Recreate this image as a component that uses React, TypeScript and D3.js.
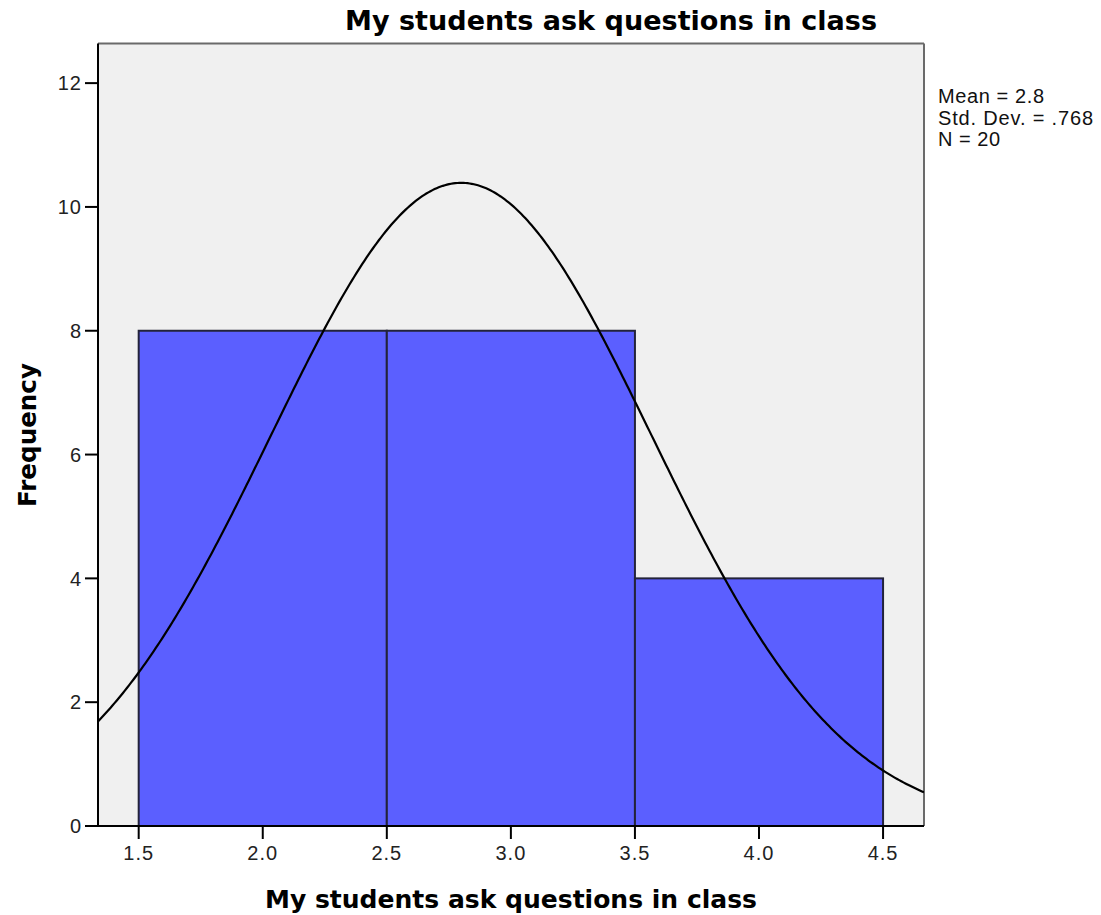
import React from "react";
import * as d3 from "d3";

const binStarts = [1.5, 2.5, 3.5];
const binEnds = [2.5, 3.5, 4.5];
const counts = [8, 8, 4];
const xTicks = [1.5, 2.0, 2.5, 3.0, 3.5, 4.0, 4.5];
const yTicks = [0, 2, 4, 6, 8, 10, 12];
const statLines = ["Mean = 2.8", "Std. Dev. = .768", "N = 20"];
const statWidths = [106, 155, 62];
const mean = 2.8;
const sd = 0.768;
const n = 20;
const binWidth = 1;
const title = "My students ask questions in class";
const xTitle = "My students ask questions in class";
const yTitle = "Frequency";

const W = 1101;
const H = 915;
const left = 98;
const right = 924;
const top = 43.5;
const bottom = 826;

export default function App() {
  const x = d3.scaleLinear().domain([1.336, 4.665]).range([left, right]);
  const y = d3.scaleLinear().domain([0, 12.64]).range([bottom, top]);

  const pdf = (v: number) =>
    (n * binWidth) / (sd * Math.sqrt(2 * Math.PI)) *
    Math.exp(-0.5 * ((v - mean) / sd) ** 2);
  const xs = d3.range(0, 401).map((i) => 1.336 + (i / 400) * (4.665 - 1.336));
  const line = d3
    .line<number>()
    .x((v) => x(v))
    .y((v) => y(pdf(v)))
    .curve(d3.curveLinear);

  const font = "'DejaVu Sans', Verdana, sans-serif";
  const arial = "'Liberation Sans', Arial, sans-serif";

  return (
    <svg
      width={W}
      height={H}
      style={{ position: "absolute", left: 0, top: 0, background: "#fff" }}
      fontFamily={font}
    >
      <defs>
        <clipPath id="plotClip">
          <rect x={left} y={top} width={right - left} height={bottom - top} />
        </clipPath>
      </defs>
      <rect x={left} y={top} width={right - left} height={bottom - top} fill="#f0f0f0" />
      <line x1={left} x2={right} y1={top} y2={top} stroke="#6a6a6a" strokeWidth={2} />
      <line x1={right} x2={right} y1={top} y2={bottom} stroke="#6a6a6a" strokeWidth={2} />

      {counts.map((c, i) => (
        <rect
          key={i}
          x={x(binStarts[i])}
          y={y(c)}
          width={x(binEnds[i]) - x(binStarts[i])}
          height={y(0) - y(c)}
          fill="#5b5fff"
          stroke="#23233a"
          strokeWidth={2}
        />
      ))}

      <path
        d={line(xs) || ""}
        fill="none"
        stroke="#000"
        strokeWidth={2.2}
        clipPath="url(#plotClip)"
      />

      <line x1={left} x2={left} y1={top} y2={bottom} stroke="#000" strokeWidth={2} />
      <line x1={left} x2={right} y1={bottom} y2={bottom} stroke="#000" strokeWidth={2} />

      {yTicks.map((t) => (
        <g key={t}>
          <line x1={left - 13} x2={left} y1={y(t)} y2={y(t)} stroke="#000" strokeWidth={2} />
          <text
            x={left - 16}
            y={y(t)}
            dy="0.36em"
            textAnchor="end"
            fontSize={20}
            fontFamily={arial}
            letterSpacing={1}
            fill="#222"
          >
            {t}
          </text>
        </g>
      ))}
      {xTicks.map((t) => (
        <g key={t}>
          <line x1={x(t)} x2={x(t)} y1={bottom} y2={bottom + 13} stroke="#000" strokeWidth={2} />
          <text
            x={x(t)}
            y={860}
            textAnchor="middle"
            fontSize={20}
            fontFamily={arial}
            letterSpacing={1}
            fill="#222"
          >
            {t.toFixed(1)}
          </text>
        </g>
      ))}

      <text
        x={611}
        y={30}
        textAnchor="middle"
        fontSize={27}
        fontWeight="bold"
        fill="#000"
        textLength={532}
        lengthAdjust="spacingAndGlyphs"
      >
        {title}
      </text>
      <text
        x={(left + right) / 2}
        y={908}
        textAnchor="middle"
        fontSize={25}
        fontWeight="bold"
        fill="#000"
        textLength={492}
        lengthAdjust="spacingAndGlyphs"
      >
        {xTitle}
      </text>
      <text
        transform={`translate(36, 435) rotate(-90)`}
        textAnchor="middle"
        fontSize={24.5}
        fontWeight="bold"
        fill="#000"
        textLength={144}
        lengthAdjust="spacingAndGlyphs"
      >
        {yTitle}
      </text>

      {statLines.map((s, i) => (
        <text
          key={s}
          x={938}
          y={103 + i * 21.5}
          fontSize={20}
          fontFamily={arial}
          fill="#111"
          textLength={statWidths[i]}
          lengthAdjust="spacing"
        >
          {s}
        </text>
      ))}
    </svg>
  );
}
